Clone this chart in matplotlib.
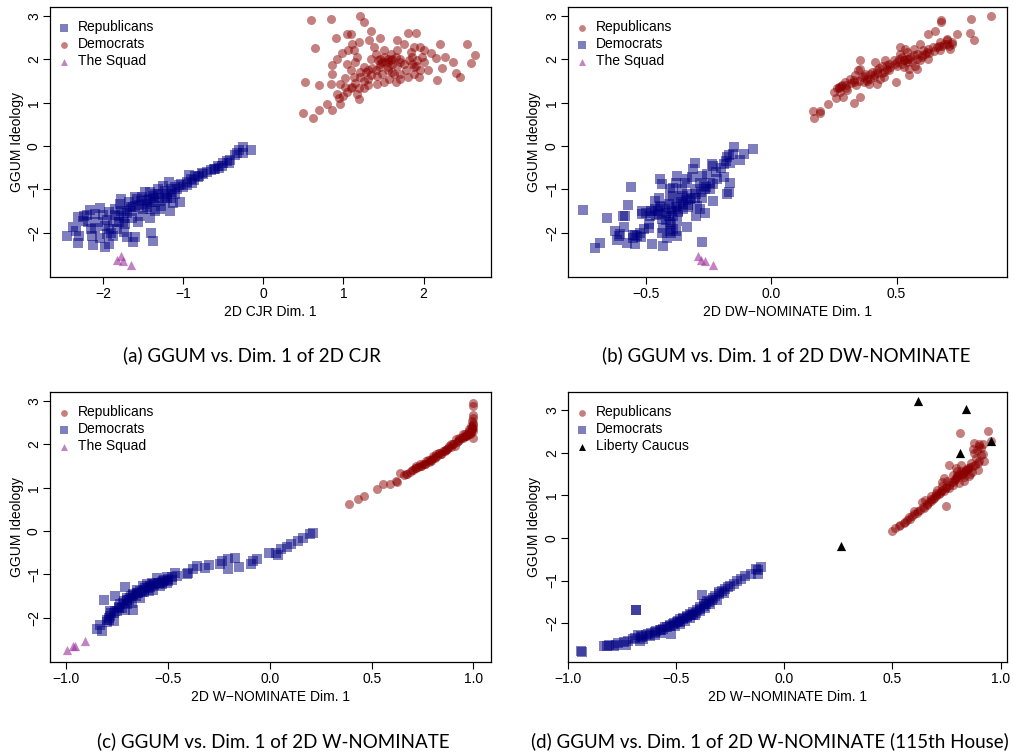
import matplotlib

matplotlib.use("Agg")
import matplotlib.pyplot as plt
import numpy as np

plt.rcParams["font.family"] = ["Liberation Sans", "DejaVu Sans"]

# ── (a) 2D CJR ────────────────────────────────────────────────────────────
a_blue = [
    (-0.25, -0.03), (-0.15, -0.08), (-0.35, -0.21), (-0.41, -0.32), (-0.50, -0.39),
    (-0.56, -0.45), (-0.62, -0.52), (-0.75, -0.65), (-0.81, -0.72), (-0.87, -0.78),
    (-0.93, -0.67), (-1.02, -0.88), (-1.10, -0.95), (-1.18, -0.82), (-1.25, -0.92),
    (-1.14, -1.07), (-1.23, -1.15), (-1.31, -1.11), (-1.37, -1.15), (-1.48, -1.07),
    (-1.43, -1.22), (-1.35, -1.30), (-1.27, -1.38), (-1.13, -1.32), (-1.04, -1.29),
    (-1.52, -1.26), (-1.58, -1.22), (-1.60, -1.38), (-1.50, -1.46), (-1.41, -1.46),
    (-1.35, -1.49), (-1.66, -1.49), (-1.73, -1.46), (-1.77, -1.22), (-1.79, -1.34),
    (-1.85, -1.46), (-1.80, -1.61), (-1.74, -1.65), (-1.64, -1.65), (-1.56, -1.76),
    (-1.87, -1.76), (-1.93, -1.53), (-2.04, -1.42), (-2.10, -1.57), (-2.16, -1.48),
    (-2.23, -1.61), (-2.25, -1.73), (-2.31, -1.63), (-2.37, -1.86), (-2.45, -2.07),
    (-2.33, -1.95), (-2.30, -2.07), (-2.31, -2.24), (-2.15, -1.92), (-2.14, -2.07),
    (-2.12, -2.29), (-2.04, -2.11), (-1.98, -1.84), (-1.95, -2.03), (-1.97, -2.32),
    (-1.93, -2.26), (-1.87, -2.07), (-1.83, -1.92), (-1.74, -1.98), (-1.73, -1.80),
    (-1.60, -2.09), (-1.62, -2.22), (-1.40, -2.00), (-1.38, -2.19), (-2.06, -1.76),
    (-2.18, -1.76), (-1.54, -1.61), (-1.41, -1.65), (-1.29, -1.45), (-1.16, -1.49),
    (-1.23, -1.26), (-1.48, -1.34), (-1.77, -1.49), (-1.80, -1.76), (-1.93, -1.92),
    (-1.68, -1.30), (-1.60, -1.18), (-1.51, -1.18), (-1.41, -1.07), (-1.31, -1.00),
    (-1.23, -1.03), (-1.08, -1.00), (-0.95, -0.82), (-0.89, -0.84), (-0.85, -0.70),
    (-0.77, -0.61), (-0.60, -0.53), (-0.52, -0.45), (-0.43, -0.38), (-0.33, -0.16),
    (-0.25, -0.15), (-1.45, -1.25), (-1.36, -1.20), (-1.20, -1.10), (-1.62, -1.40),
    (-0.30, -0.10), (-0.45, -0.35), (-0.55, -0.50), (-0.65, -0.55), (-0.70, -0.60),
    (-0.80, -0.68), (-0.90, -0.75), (-0.95, -0.90), (-1.00, -0.95), (-1.05, -0.90),
    (-1.15, -1.00), (-1.20, -1.20), (-1.30, -1.20), (-1.35, -1.10), (-1.40, -1.30),
    (-1.45, -1.40), (-1.55, -1.35), (-1.65, -1.40), (-1.70, -1.55), (-1.75, -1.75),
    (-1.85, -1.60), (-1.95, -1.70), (-2.00, -1.60), (-2.20, -1.60), (-2.10, -1.90),
    (-1.90, -2.00), (-1.70, -2.10), (-1.15, -1.20), (-1.10, -1.10),
]
a_red = [
    (0.59, 2.92), (0.85, 2.94), (1.20, 3.00), (1.25, 2.87), (1.34, 2.66), (0.65, 2.26),
    (0.91, 2.49), (1.05, 2.58), (1.09, 2.58), (1.45, 2.50), (1.80, 2.61), (1.91, 2.61),
    (2.20, 2.35), (2.54, 2.36), (2.64, 2.10), (2.59, 1.92), (2.36, 1.94), (2.23, 1.81),
    (2.40, 1.69), (2.45, 1.60), (2.17, 1.53), (2.27, 2.06), (2.15, 2.04), (2.05, 1.76),
    (1.94, 1.60), (1.88, 1.67), (1.82, 1.98), (1.71, 2.02), (1.59, 1.98), (1.55, 2.02),
    (1.48, 1.94), (1.43, 1.98), (1.38, 2.29), (1.40, 2.13), (1.50, 2.21), (1.67, 2.44),
    (1.75, 2.36), (1.96, 2.29), (2.00, 2.21), (2.09, 2.15), (1.92, 1.98), (1.78, 1.75),
    (1.71, 1.67), (1.63, 1.67), (1.57, 1.56), (1.50, 1.48), (1.42, 1.44), (1.34, 1.63),
    (1.30, 1.75), (1.25, 1.83), (1.34, 2.02), (1.21, 1.71), (1.21, 1.60), (1.13, 1.60),
    (1.02, 1.58), (0.96, 1.44), (0.92, 1.21), (0.94, 1.12), (0.96, 0.98), (1.11, 1.36),
    (1.19, 1.33), (1.25, 1.33), (1.30, 1.40), (1.17, 1.21), (1.19, 1.09), (0.86, 1.67),
    (0.86, 1.88), (0.92, 2.02), (0.98, 2.15), (1.06, 2.21), (1.13, 2.21), (1.11, 2.36),
    (1.19, 2.41), (1.32, 2.44), (1.17, 2.06), (0.52, 1.48), (0.70, 1.40), (0.80, 0.98),
    (0.86, 0.84), (0.69, 0.83), (0.50, 0.76), (0.62, 0.65), (0.84, 1.44), (1.46, 1.83),
    (1.55, 1.83), (1.67, 1.86), (1.59, 2.13), (1.67, 2.21), (1.84, 2.17), (1.88, 2.29),
    (1.98, 2.06), (1.66, 1.48), (1.48, 1.67), (1.40, 1.75), (1.09, 1.33), (1.02, 1.36),
    (1.52, 1.95), (1.60, 1.90), (1.45, 1.90), (1.88, 1.82),
    (1.45, 2.00), (1.50, 2.05), (1.55, 1.95), (1.60, 2.00), (1.65, 2.05), (1.70, 1.95),
    (1.75, 1.90), (1.85, 1.90), (1.90, 1.85), (1.55, 1.75), (1.60, 1.70), (1.35, 1.80),
    (1.30, 1.55), (1.25, 1.50), (1.15, 1.45), (1.05, 1.25), (1.00, 1.15), (1.85, 2.05),
    (2.00, 1.95), (1.95, 1.75), (1.80, 1.60), (1.70, 1.55), (1.42, 1.62), (1.28, 1.70),
    (1.10, 1.75), (1.05, 1.90), (1.15, 1.95),
]
a_squad = [(-1.83, -2.63), (-1.77, -2.53), (-1.75, -2.64), (-1.65, -2.75)]

# ── (b) 2D DW-NOMINATE ────────────────────────────────────────────────────
b_red = [
    (0.878, 3.00), (0.797, 2.93), (0.677, 2.90), (0.677, 2.87), (0.791, 2.61), (0.810, 2.44),
    (0.651, 2.65), (0.625, 2.59), (0.741, 2.58), (0.701, 2.48), (0.721, 2.40), (0.687, 2.36),
    (0.667, 2.32), (0.711, 2.25), (0.674, 2.21), (0.627, 2.25), (0.607, 2.21), (0.594, 2.36),
    (0.568, 2.25), (0.581, 2.13), (0.555, 2.06), (0.535, 2.25), (0.515, 2.13), (0.508, 2.02),
    (0.528, 1.98), (0.541, 1.94), (0.574, 1.86), (0.625, 2.02), (0.594, 1.98), (0.488, 1.98),
    (0.468, 1.90), (0.461, 1.79), (0.441, 1.86), (0.421, 1.75), (0.415, 1.94), (0.395, 1.67),
    (0.375, 1.67), (0.355, 1.98), (0.355, 1.79), (0.362, 1.60), (0.335, 1.64), (0.329, 1.48),
    (0.315, 1.56), (0.295, 1.48), (0.282, 1.40), (0.269, 1.36), (0.262, 1.33), (0.275, 1.25),
    (0.288, 1.13), (0.259, 1.12), (0.302, 1.29), (0.355, 1.13), (0.329, 0.99), (0.388, 1.44),
    (0.421, 1.44), (0.435, 1.56), (0.499, 1.48), (0.548, 1.64), (0.475, 1.83), (0.448, 1.71),
    (0.528, 1.83), (0.495, 1.90), (0.548, 1.79), (0.581, 1.79), (0.601, 2.06), (0.614, 2.13),
    (0.647, 2.29), (0.249, 1.25), (0.225, 0.98), (0.195, 0.82), (0.166, 0.82), (0.169, 0.64),
    (0.195, 0.76), (0.395, 1.56), (0.368, 1.48), (0.348, 1.75), (0.408, 1.63), (0.455, 1.98),
    (0.515, 2.29), (0.541, 2.17), (0.701, 2.44), (0.674, 2.40), (0.52, 2.05), (0.54, 2.02),
    (0.50, 1.95), (0.46, 1.88), (0.43, 1.80), (0.40, 1.72), (0.37, 1.62), (0.33, 1.52),
    (0.30, 1.42), (0.27, 1.35), (0.57, 2.10), (0.62, 2.18), (0.66, 2.28), (0.70, 2.36),
    (0.28, 1.38), (0.30, 1.35), (0.32, 1.45), (0.35, 1.50), (0.38, 1.55), (0.41, 1.60),
    (0.44, 1.68), (0.47, 1.75), (0.50, 1.85), (0.52, 1.90), (0.53, 1.98), (0.55, 2.00),
    (0.56, 1.95), (0.58, 2.02), (0.60, 2.10), (0.63, 2.15), (0.65, 2.20), (0.68, 2.30),
    (0.71, 2.30), (0.72, 2.35), (0.45, 1.60), (0.42, 1.68), (0.38, 1.50), (0.34, 1.42),
]
b_blue = [
    (-0.150, -0.03), (-0.071, -0.06), (-0.110, -0.18), (-0.153, -0.18), (-0.177, -0.26),
    (-0.126, -0.32), (-0.164, -0.39), (-0.190, -0.42), (-0.230, -0.45), (-0.237, -0.42),
    (-0.190, -0.72), (-0.164, -0.84), (-0.217, -0.76), (-0.230, -0.88), (-0.243, -0.99),
    (-0.230, -1.26), (-0.170, -1.07), (-0.177, -1.11), (-0.256, -0.65), (-0.276, -0.69),
    (-0.303, -0.38), (-0.310, -0.53), (-0.316, -0.72), (-0.283, -0.84), (-0.263, -0.99),
    (-0.276, -1.19), (-0.303, -1.19), (-0.296, -1.38), (-0.283, -1.45), (-0.263, -1.55),
    (-0.299, -1.61), (-0.336, -0.76), (-0.343, -0.84), (-0.376, -0.69), (-0.380, -0.84),
    (-0.403, -0.99), (-0.390, -1.15), (-0.363, -1.19), (-0.336, -1.11), (-0.323, -1.22),
    (-0.350, -1.34), (-0.376, -1.38), (-0.330, -1.41), (-0.350, -1.45), (-0.370, -1.53),
    (-0.396, -1.49), (-0.403, -1.22), (-0.409, -1.34), (-0.423, -1.45), (-0.443, -1.38),
    (-0.463, -1.45), (-0.476, -1.49), (-0.483, -1.61), (-0.449, -1.57), (-0.436, -1.68),
    (-0.409, -1.61), (-0.403, -1.76), (-0.376, -1.73), (-0.390, -1.92), (-0.403, -1.96),
    (-0.430, -1.88), (-0.436, -2.00), (-0.416, -2.11), (-0.376, -2.07), (-0.334, -1.86),
    (-0.489, -1.80), (-0.489, -1.88), (-0.516, -1.49), (-0.516, -1.57), (-0.509, -1.92),
    (-0.523, -2.00), (-0.536, -2.07), (-0.542, -2.06), (-0.549, -2.11), (-0.589, -1.61),
    (-0.582, -1.62), (-0.586, -1.86), (-0.602, -2.03), (-0.605, -2.07), (-0.615, -2.16),
    (-0.622, -1.96), (-0.576, -2.24), (-0.542, -2.27), (-0.476, -2.26), (-0.430, -2.30),
    (-0.569, -1.36), (-0.558, -0.95), (-0.653, -1.65), (-0.682, -2.24), (-0.702, -2.34),
    (-0.749, -1.48), (-0.443, -0.76), (-0.436, -0.88), (-0.463, -1.26), (-0.449, -1.19),
    (-0.390, -0.96), (-0.356, -1.00), (-0.303, -1.00), (-0.269, -0.92), (-0.245, -0.84),
    (-0.275, -2.21),
    (-0.45, -1.50), (-0.42, -1.55), (-0.40, -1.45), (-0.38, -1.40), (-0.36, -1.30),
    (-0.34, -1.25), (-0.32, -1.20), (-0.30, -1.10), (-0.28, -1.05), (-0.26, -0.95),
    (-0.42, -1.70), (-0.40, -1.80), (-0.46, -1.60), (-0.50, -1.55), (-0.48, -1.50),
    (-0.44, -1.40), (-0.39, -1.62), (-0.37, -1.50), (-0.35, -1.15), (-0.33, -1.35),
    (-0.22, -0.60), (-0.20, -0.50), (-0.18, -0.35), (-0.17, -0.20), (-0.55, -2.05),
    (-0.52, -2.10), (-0.40, -2.00), (-0.38, -1.95),
]
b_squad = [(-0.292, -2.53), (-0.280, -2.63), (-0.262, -2.66), (-0.233, -2.75)]

# ── (c) 2D W-NOMINATE ─────────────────────────────────────────────────────
c_red = [
    (0.389, 0.63), (0.433, 0.75), (0.461, 0.82), (0.526, 0.98), (0.556, 1.08), (0.592, 1.09),
    (0.624, 1.13), (0.637, 1.35), (0.667, 1.32), (0.703, 1.42), (0.719, 1.50), (0.735, 1.54),
    (0.760, 1.56), (0.784, 1.65), (0.801, 1.73), (0.809, 1.69), (0.833, 1.81), (0.850, 1.85),
    (0.874, 1.92), (0.891, 2.00), (0.907, 1.96), (0.923, 2.08), (0.940, 2.15), (0.956, 2.23),
    (0.972, 2.27), (0.980, 2.35), (0.989, 2.42), (0.993, 2.54), (0.997, 2.62), (0.997, 2.88),
    (0.997, 2.96), (1.000, 2.15), (0.989, 2.27), (0.964, 2.19), (0.948, 2.23), (0.915, 2.12),
    (0.882, 1.96), (0.858, 1.88), (0.842, 1.77), (0.817, 1.77), (0.793, 1.62), (0.768, 1.62),
    (0.743, 1.50), (0.727, 1.48), (0.686, 1.37), (0.673, 1.31), (0.657, 1.29), (0.621, 1.15),
    (0.997, 2.46), (0.997, 2.69), (0.992, 2.35), (0.977, 2.31), (0.961, 2.19), (0.931, 2.15),
    (0.899, 2.02), (0.866, 1.88), (0.830, 1.81), (0.801, 1.68), (0.776, 1.63), (0.752, 1.55),
    (0.711, 1.45), (0.997, 2.38), (0.984, 2.23), (0.948, 2.17), (0.997, 2.30), (0.995, 2.40),
    (0.70, 1.42), (0.72, 1.45), (0.74, 1.50), (0.76, 1.55), (0.78, 1.60), (0.79, 1.64),
    (0.81, 1.70), (0.82, 1.73), (0.84, 1.78), (0.86, 1.85), (0.87, 1.90), (0.89, 1.95),
    (0.90, 2.00), (0.92, 2.05), (0.93, 2.10), (0.95, 2.15), (0.96, 2.20), (0.97, 2.22),
    (0.98, 2.25), (0.99, 2.30), (0.995, 2.35), (0.998, 2.50),
]
c_blue = [
    (0.212, -0.04), (0.196, -0.06), (0.163, -0.15), (0.139, -0.23), (0.106, -0.29),
    (0.082, -0.37), (0.057, -0.42), (0.029, -0.50), (-0.003, -0.50), (0.041, -0.55),
    (-0.065, -0.65), (-0.082, -0.69), (-0.095, -0.77), (-0.150, -0.82), (-0.172, -0.63),
    (-0.204, -0.65), (-0.204, -0.88), (-0.237, -0.69), (-0.245, -0.77), (-0.297, -0.78),
    (-0.319, -0.85), (-0.359, -0.81), (-0.376, -0.88), (-0.400, -0.96), (-0.408, -1.00),
    (-0.466, -0.96), (-0.458, -1.04), (-0.482, -1.12), (-0.507, -1.06), (-0.523, -1.15),
    (-0.547, -1.19), (-0.572, -1.22), (-0.588, -1.27), (-0.605, -1.23), (-0.613, -1.32),
    (-0.637, -1.38), (-0.654, -1.42), (-0.670, -1.46), (-0.686, -1.54), (-0.703, -1.58),
    (-0.711, -1.29), (-0.719, -1.62), (-0.735, -1.68), (-0.760, -1.50), (-0.743, -1.77),
    (-0.670, -1.83), (-0.768, -1.88), (-0.784, -1.96), (-0.792, -2.04), (-0.801, -2.09),
    (-0.814, -1.58), (-0.833, -2.17), (-0.850, -2.27), (-0.825, -2.31), (-0.768, -2.08),
    (-0.784, -1.85), (-0.556, -1.08), (-0.531, -1.23), (-0.580, -1.19), (-0.621, -1.27),
    (-0.637, -1.54), (-0.654, -1.35), (-0.678, -1.65), (-0.596, -1.38), (-0.572, -1.35),
    (-0.539, -1.27), (-0.507, -1.19), (-0.498, -1.15), (-0.727, -1.77), (-0.752, -1.85),
    (-0.703, -1.69), (-0.711, -1.81), (-0.690, -1.60), (-0.660, -1.50), (-0.620, -1.40),
    (-0.55, -1.20), (-0.57, -1.25), (-0.59, -1.30), (-0.60, -1.32), (-0.62, -1.35),
    (-0.63, -1.40), (-0.65, -1.43), (-0.67, -1.48), (-0.68, -1.50), (-0.70, -1.55),
    (-0.72, -1.65), (-0.74, -1.75), (-0.76, -1.85), (-0.78, -1.90), (-0.79, -2.00),
    (-0.80, -2.05), (-0.52, -1.12), (-0.50, -1.10), (-0.48, -1.05), (-0.53, -1.17),
]
c_squad = [(-0.997, -2.75), (-0.967, -2.65), (-0.956, -2.65), (-0.907, -2.54)]

# ── (d) 2D W-NOMINATE, 115th House ────────────────────────────────────────
d_red = [
    (0.812, 2.45), (0.941, 2.50), (0.956, 2.27), (0.879, 2.23), (0.902, 2.19), (0.910, 2.11),
    (0.871, 2.09), (0.918, 1.97), (0.886, 1.88), (0.894, 1.76), (0.863, 1.76), (0.817, 1.72),
    (0.762, 1.72), (0.840, 1.60), (0.894, 1.60), (0.801, 1.56), (0.824, 1.48), (0.855, 1.45),
    (0.793, 1.41), (0.832, 1.33), (0.809, 1.29), (0.778, 1.25), (0.739, 1.41), (0.762, 1.17),
    (0.739, 1.09), (0.715, 1.02), (0.692, 0.94), (0.677, 0.86), (0.661, 0.78), (0.645, 0.70),
    (0.630, 0.66), (0.747, 0.74), (0.638, 0.84), (0.614, 0.59), (0.591, 0.51), (0.568, 0.43),
    (0.552, 0.35), (0.529, 0.27), (0.513, 0.23), (0.498, 0.16), (0.817, 1.56), (0.848, 1.64),
    (0.793, 1.64), (0.778, 1.48), (0.754, 1.33), (0.731, 1.21), (0.708, 1.13), (0.700, 1.05),
    (0.677, 0.98), (0.653, 0.88), (0.731, 1.31), (0.801, 1.44), (0.832, 1.52), (0.871, 1.68),
    (0.879, 2.00), (0.925, 1.80), (0.599, 0.63), (0.575, 0.48), (0.537, 0.31), (0.790, 1.35),
    (0.770, 1.30), (0.750, 1.20), (0.725, 1.10), (0.700, 0.98), (0.680, 0.90), (0.820, 1.50),
    (0.56, 0.38), (0.58, 0.45), (0.60, 0.55), (0.62, 0.62), (0.64, 0.72), (0.66, 0.80),
    (0.67, 0.85), (0.69, 0.92), (0.70, 1.00), (0.72, 1.05), (0.73, 1.12), (0.75, 1.18),
    (0.76, 1.25), (0.78, 1.30), (0.79, 1.38), (0.80, 1.45), (0.81, 1.50), (0.83, 1.55),
    (0.84, 1.58), (0.85, 1.62), (0.86, 1.65), (0.87, 1.55), (0.88, 1.70), (0.90, 1.80),
    (0.91, 1.95), (0.89, 2.05), (0.90, 2.15), (0.92, 2.20), (0.86, 1.50), (0.83, 1.42),
]
d_blue = [
    (-0.109, -0.69), (-0.132, -0.73), (-0.156, -0.84), (-0.123, -0.84), (-0.199, -0.96),
    (-0.233, -1.09), (-0.249, -1.13), (-0.272, -1.19), (-0.288, -1.25), (-0.303, -1.31),
    (-0.319, -1.37), (-0.334, -1.45), (-0.381, -1.34), (-0.358, -1.48), (-0.373, -1.56),
    (-0.389, -1.63), (-0.404, -1.68), (-0.420, -1.73), (-0.435, -1.78), (-0.451, -1.84),
    (-0.467, -1.88), (-0.482, -1.91), (-0.498, -1.97), (-0.513, -2.02), (-0.529, -2.05),
    (-0.544, -2.09), (-0.560, -2.13), (-0.526, -2.25), (-0.575, -2.17), (-0.591, -2.19),
    (-0.614, -2.23), (-0.638, -2.27), (-0.661, -2.30), (-0.684, -1.70), (-0.684, -1.68),
    (-0.677, -2.27), (-0.692, -2.34), (-0.723, -2.42), (-0.731, -2.52), (-0.770, -2.46),
    (-0.786, -2.54), (-0.809, -2.52), (-0.832, -2.54), (-0.938, -2.66), (-0.933, -2.67),
    (-0.435, -1.88), (-0.459, -1.95), (-0.482, -2.02), (-0.505, -2.07), (-0.412, -1.81),
    (-0.389, -1.72), (-0.365, -1.64), (-0.342, -1.56), (-0.311, -1.45), (-0.280, -1.29),
    (-0.568, -2.23), (-0.599, -2.28), (-0.622, -2.30), (-0.653, -2.36), (-0.669, -2.41),
    (-0.12, -0.75), (-0.18, -0.90), (-0.22, -1.02), (-0.26, -1.15), (-0.30, -1.28),
    (-0.33, -1.40), (-0.35, -1.50), (-0.37, -1.60), (-0.39, -1.67), (-0.41, -1.75),
    (-0.43, -1.80), (-0.45, -1.86), (-0.47, -1.90), (-0.49, -1.95), (-0.51, -2.00),
    (-0.53, -2.07), (-0.55, -2.10), (-0.57, -2.15), (-0.60, -2.20), (-0.63, -2.25),
    (-0.66, -2.32), (-0.70, -2.38), (-0.74, -2.45), (-0.78, -2.50), (-0.82, -2.53),
    (-0.36, -1.55), (-0.42, -1.80), (-0.48, -1.98),
]
d_liberty = [(0.619, 3.20), (0.840, 3.01), (0.956, 2.27), (0.812, 1.99), (0.261, -0.20)]

# ── styling ───────────────────────────────────────────────────────────────
RED = "#8B0000"
BLUE = "#000080"
SQUAD = "#9B309B"
FS = 10

W, H = 1014, 756
fig = plt.figure(figsize=(W / 100, H / 100), dpi=100)


def add_ax(left, top, right, bottom):
    return fig.add_axes([left / W, 1 - bottom / H, (right - left) / W, (bottom - top) / H])


def scatter_set(ax, pts, kind, label):
    pts = np.array(pts)
    if kind == "red":
        ax.scatter(pts[:, 0], pts[:, 1], s=42, marker="o", color=RED, alpha=0.5,
                   linewidths=0, label=label)
    elif kind == "blue":
        ax.scatter(pts[:, 0], pts[:, 1], s=46, marker="s", color=BLUE, alpha=0.5,
                   linewidths=0, label=label)
    elif kind == "squad":
        ax.scatter(pts[:, 0], pts[:, 1], s=44, marker="^", color=SQUAD, alpha=0.6,
                   linewidths=0, label=label)
    else:
        ax.scatter(pts[:, 0], pts[:, 1], s=44, marker="^", color="black",
                   linewidths=0, label=label)


def style(ax, xlim, ylim, xticks, xticklabels, xlabel, yticks, ylab_x):
    ax.set_xlim(*xlim)
    ax.set_ylim(*ylim)
    ax.set_xticks(xticks)
    ax.set_xticklabels(xticklabels)
    ax.set_yticks(yticks)
    ax.set_yticklabels([str(t).replace("-", "\u2212") for t in yticks],
                       rotation=90, va="center")
    ax.tick_params(direction="out", length=5, width=0.8, labelsize=FS, pad=1.5)
    ax.tick_params(axis="x", pad=2.5)
    ax.set_xlabel(xlabel, fontsize=FS, va="center")
    ax.xaxis.set_label_coords(0.5, -35 / 270)
    ax.set_ylabel("GGUM Ideology", fontsize=FS, va="center")
    ax.yaxis.set_label_coords(ylab_x, 0.5)
    for sp in ax.spines.values():
        sp.set_linewidth(0.9)
    ax.legend(loc="upper left", bbox_to_anchor=(0.0, 0.982), frameon=False, fontsize=FS,
              handlelength=0.8, handletextpad=0.6, labelspacing=0.22, borderaxespad=0.4,
              borderpad=0.2, scatterpoints=1, markerscale=0.75)


ax_a = add_ax(50, 7, 491, 277)
scatter_set(ax_a, a_blue, "blue", "Republicans")
scatter_set(ax_a, a_red, "red", "Democrats")
scatter_set(ax_a, a_squad, "squad", "The Squad")
style(ax_a, (-2.66, 2.84), (-3.02, 3.21), [-2, -1, 0, 1, 2],
      ["\u22122", "\u22121", "0", "1", "2"], "2D CJR Dim. 1", [-2, -1, 0, 1, 2, 3],
      -33 / 441)

ax_b = add_ax(568, 7, 1007, 277)
scatter_set(ax_b, b_red, "red", "Republicans")
scatter_set(ax_b, b_blue, "blue", "Democrats")
scatter_set(ax_b, b_squad, "squad", "The Squad")
style(ax_b, (-0.81, 0.94), (-3.02, 3.21), [-0.5, 0.0, 0.5],
      ["\u22120.5", "0.0", "0.5"], "2D DW\u2212NOMINATE Dim. 1", [-2, -1, 0, 1, 2, 3],
      -34 / 439)

ax_c = add_ax(50, 392, 491, 662)
scatter_set(ax_c, c_red, "red", "Republicans")
scatter_set(ax_c, c_blue, "blue", "Democrats")
scatter_set(ax_c, c_squad, "squad", "The Squad")
style(ax_c, (-1.08, 1.086), (-3.02, 3.21), [-1.0, -0.5, 0.0, 0.5, 1.0],
      ["\u22121.0", "\u22120.5", "0.0", "0.5", "1.0"], "2D W\u2212NOMINATE Dim. 1",
      [-2, -1, 0, 1, 2, 3], -33 / 441)

ax_d = add_ax(568, 392, 1007, 662)
scatter_set(ax_d, d_red, "red", "Republicans")
scatter_set(ax_d, d_blue, "blue", "Democrats")
scatter_set(ax_d, d_liberty, "liberty", "Liberty Caucus")
style(ax_d, (-1.0, 1.03), (-2.91, 3.42), [-1.0, -0.5, 0.0, 0.5, 1.0],
      ["\u22121.0", "\u22120.5", "0.0", "0.5", "1.0"], "2D W\u2212NOMINATE Dim. 1",
      [-2, -1, 0, 1, 2, 3], -34 / 439)

# ── captions ──────────────────────────────────────────────────────────────
captions = [
    ("(a) GGUM vs. Dim. 1 of 2D CJR", 252, 355),
    ("(b) GGUM vs. Dim. 1 of 2D DW-NOMINATE", 786, 355),
    ("(c) GGUM vs. Dim. 1 of 2D W-NOMINATE", 273, 741),
    ("(d) GGUM vs. Dim. 1 of 2D W-NOMINATE (115th House)", 770, 741),
]
for text, cx, cy in captions:
    fig.text(cx / W, 1 - cy / H, text, ha="center", va="center", fontsize=13.5,
             family=["Lato", "DejaVu Sans"])

fig.savefig("out.png", dpi=100)
